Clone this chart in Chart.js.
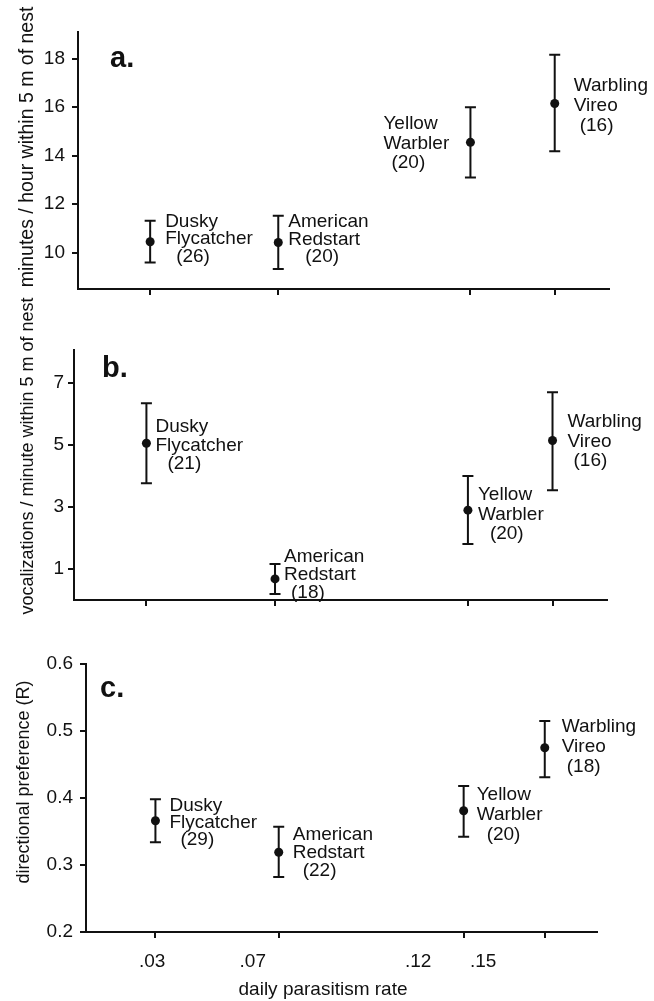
<!DOCTYPE html>
<html>
<head>
<meta charset="utf-8">
<script src="https://cdn.jsdelivr.net/npm/chart.js@4"></script>
<style>
  body { margin: 0; background: #fff; }
  #wrap { position: relative; width: 654px; height: 1001px; }
  canvas { position: absolute; left: 0; }
</style>
</head>
<body>
<div id="wrap">
  <canvas id="panelA" width="654" height="320" style="top:0px"></canvas>
  <canvas id="panelB" width="654" height="340" style="top:290px"></canvas>
  <canvas id="panelC" width="654" height="371" style="top:630px"></canvas>
</div>
<script>
// species, in order of daily parasitism rate
const species = ['Dusky Flycatcher', 'American Redstart', 'Yellow Warbler', 'Warbling Vireo'];
const rateAt = [0.030, 0.068, 0.125, 0.150];          // where each species sits on the x axis
const rateTickLabels = ['.03', '.07', '.12', '.15'];
const rateTickAt = [0.029, 0.060, 0.111, 0.131];      // where the printed labels sit

// a. minutes / hour within 5 m of nest
const minutesMean = [10.45, 10.42, 14.55, 16.15];
const minutesLow = [9.59, 9.32, 13.10, 14.18];
const minutesHigh = [11.31, 11.52, 16.00, 18.16];
const minutesN = [26, 20, 20, 16];
const minutesTicks = [10, 12, 14, 16, 18];

// b. vocalizations / minute within 5 m of nest
const vocalMean = [5.06, 0.68, 2.90, 5.15];
const vocalLow = [3.77, 0.19, 1.81, 3.54];
const vocalHigh = [6.35, 1.16, 4.00, 6.71];
const vocalN = [21, 18, 20, 16];
const vocalTicks = [1, 3, 5, 7];

// c. directional preference (R)
const prefMean = [0.366, 0.319, 0.381, 0.475];
const prefLow = [0.334, 0.282, 0.342, 0.431];
const prefHigh = [0.398, 0.357, 0.418, 0.515];
const prefN = [29, 22, 20, 18];
const prefTicks = [0.2, 0.3, 0.4, 0.5, 0.6];

const FONT = '"Liberation Sans", Arial, Helvetica, sans-serif';
const INK = '#111';
const X_MIN = 0.0086, X_MAX = 0.1661;

// error bars under the dots
const errorBars = {
  id: 'errorBars',
  beforeDatasetsDraw(chart) {
    const ds = chart.data.datasets[0];
    const xs = chart.scales.x, ys = chart.scales.y;
    const ctx = chart.ctx;
    ctx.save();
    ctx.strokeStyle = INK;
    ctx.lineWidth = 2;
    ds.data.forEach((p, i) => {
      const px = xs.getPixelForValue(p.x);
      const top = ys.getPixelForValue(ds.errHigh[i]);
      const bot = ys.getPixelForValue(ds.errLow[i]);
      ctx.beginPath();
      ctx.moveTo(px, top); ctx.lineTo(px, bot);
      ctx.moveTo(px - 5.5, top); ctx.lineTo(px + 5.5, top);
      ctx.moveTo(px - 5.5, bot); ctx.lineTo(px + 5.5, bot);
      ctx.stroke();
    });
    ctx.restore();
  }
};

// species labels, panel letter and axis titles
const panelText = {
  id: 'panelText',
  afterDatasetsDraw(chart, args, opts) {
    const ctx = chart.ctx;
    const ds = chart.data.datasets[0];
    const meta = chart.getDatasetMeta(0);
    ctx.save();
    ctx.fillStyle = INK;
    ctx.textAlign = 'left';
    ctx.textBaseline = 'alphabetic';
    ctx.font = '19px ' + FONT;
    meta.data.forEach((pt, i) => {
      const [dx, dy, gap, indent] = opts.labels[i];
      const lines = species[i].split(' ').concat('(' + ds.counts[i] + ')');
      lines.forEach((t, k) => {
        ctx.fillText(t, pt.x + dx + (k === 2 ? indent : 0), pt.y + dy + k * gap);
      });
    });
    ctx.font = 'bold 29px ' + FONT;
    ctx.fillText(opts.letter.text, opts.letter.x, opts.letter.y);

    ctx.font = opts.yTitle.size + 'px ' + FONT;
    ctx.textAlign = 'center';
    ctx.translate(opts.yTitle.x, opts.yTitle.y);
    ctx.rotate(-Math.PI / 2);
    ctx.fillText(opts.yTitle.text, 0, 0);
    ctx.setTransform(1, 0, 0, 1, 0, 0);
    if (opts.xTitle) {
      ctx.font = opts.xTitle.size + 'px ' + FONT;
      ctx.fillText(opts.xTitle.text, opts.xTitle.x, opts.xTitle.y);
    }
    ctx.restore();
  }
};

function makePanel(id, p) {
  const scales = {
    x: {
      type: 'linear', min: X_MIN, max: X_MAX, weight: 0,
      afterBuildTicks: s => { s.ticks = rateAt.map(v => ({ value: v })); },
      afterFit: s => { s.height = 6; },
      ticks: { display: false },
      grid: { drawOnChartArea: false, drawTicks: true, tickLength: 6, color: INK, lineWidth: 2 },
      border: { display: true, color: INK, width: 2 }
    },
    y: {
      type: 'linear', position: 'left', min: p.yMin, max: p.yMax,
      afterBuildTicks: s => { s.ticks = p.yTicks.map(v => ({ value: v })); },
      afterFit: s => { s.width = p.left; },
      ticks: {
        color: INK, padding: p.tickPad, font: { family: FONT, size: 19 },
        callback: p.yFormat || (v => v)
      },
      grid: { drawOnChartArea: false, drawTicks: true, tickLength: 6, color: INK, lineWidth: 2 },
      border: { display: true, color: INK, width: 2 }
    }
  };
  if (p.xLabels) {
    scales.x2 = {
      type: 'linear', position: 'bottom', axis: 'x', min: X_MIN, max: X_MAX, weight: 1,
      afterBuildTicks: s => { s.ticks = rateTickAt.map(v => ({ value: v })); },
      afterFit: s => { s.height = 40; },
      ticks: {
        color: INK, padding: 12, autoSkip: false, maxRotation: 0,
        font: { family: FONT, size: 19 },
        callback: (v, i) => rateTickLabels[i]
      },
      grid: { display: false, drawTicks: false },
      border: { display: false }
    };
  }
  return new Chart(document.getElementById(id), {
    type: 'scatter',
    data: {
      datasets: [{
        data: rateAt.map((x, i) => ({ x: x, y: p.mean[i] })),
        errLow: p.low,
        errHigh: p.high,
        counts: p.n,
        pointRadius: 4.5,
        pointHoverRadius: 4.5,
        backgroundColor: INK,
        borderWidth: 0
      }]
    },
    options: {
      responsive: false,
      animation: false,
      devicePixelRatio: 1,
      layout: { padding: { left: 0, top: p.padTop, right: p.padRight, bottom: p.padBottom } },
      scales: scales,
      plugins: {
        legend: { display: false },
        tooltip: { enabled: false },
        panelText: {
          labels: p.labels, letter: p.letter, yTitle: p.yTitle, xTitle: p.xTitle
        }
      }
    },
    plugins: [errorBars, panelText]
  });
}

makePanel('panelA', {
  mean: minutesMean, low: minutesLow, high: minutesHigh, n: minutesN,
  yMin: 8.5, yMax: 19.1, yTicks: minutesTicks,
  left: 78, tickPad: 7, padTop: 32, padRight: 45, padBottom: 25,
  labels: [[15, -15, 17.5, 11], [10, -15, 17.5, 17], [-87, -13, 19.5, 8], [19, -13, 20, 6]],
  letter: { text: 'a.', x: 110, y: 67 },
  yTitle: { text: 'minutes / hour within 5 m of nest', x: 33, y: 147, size: 19.5 }
});

makePanel('panelB', {
  mean: vocalMean, low: vocalLow, high: vocalHigh, n: vocalN,
  yMin: 0, yMax: 8.07, yTicks: vocalTicks,
  left: 74, tickPad: 4, padTop: 60, padRight: 47, padBottom: 24,
  labels: [[9, -11, 18.5, 12], [9, -17, 18, 7], [10, -10, 19.5, 12], [15, -13, 19.5, 6]],
  letter: { text: 'b.', x: 102, y: 87 },
  yTitle: { text: 'vocalizations / minute within 5 m of nest', x: 33, y: 166, size: 18 }
});

makePanel('panelC', {
  mean: prefMean, low: prefLow, high: prefHigh, n: prefN,
  yMin: 0.2, yMax: 0.6, yTicks: prefTicks, yFormat: v => v.toFixed(1),
  left: 86, tickPad: 7, padTop: 34, padRight: 57, padBottom: 23,
  xLabels: true,
  labels: [[14, -10, 17, 11], [14, -12, 18, 10], [13, -11, 20, 10], [17, -16, 20, 5]],
  letter: { text: 'c.', x: 100, y: 67 },
  yTitle: { text: 'directional preference (R)', x: 29, y: 152, size: 18 },
  xTitle: { text: 'daily parasitism rate', x: 323, y: 365, size: 19 }
});
</script>
</body>
</html>
